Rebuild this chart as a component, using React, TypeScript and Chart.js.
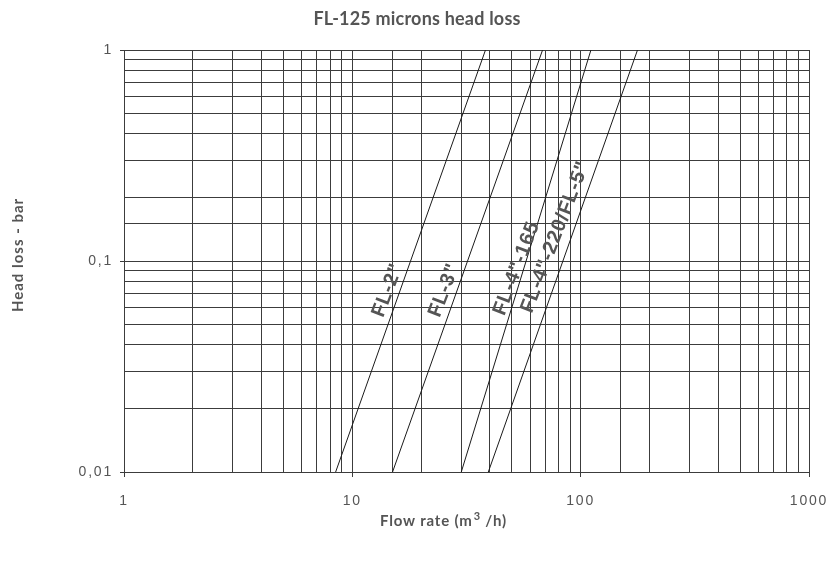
import React, { useEffect, useRef } from 'react';
import { Chart, registerables } from 'chart.js';

Chart.register(...registerables);

// ---- data ----
const chartTitle = 'FL-125 microns head loss';
const xAxisTitle = 'Flow rate (m';
const yAxisTitle = 'Head loss - bar';

const seriesNames = ['FL-2"', 'FL-3"', 'FL-4"-165', 'FL-4"-220/FL-5"'];
const headLoss = [0.01, 1];
const fl2Flow = [8.45, 38.3];
const fl3Flow = [15.0, 68.1];
const fl4s165Flow = [30.0, 110.9];
const fl4s220Flow = [39.4, 177.4];
const seriesFlows = [fl2Flow, fl3Flow, fl4s165Flow, fl4s220Flow];

// label anchor points (data coordinates)
const labelFlow = [14.3, 25.3, 52.5, 77.5];
const labelHead = [0.0727, 0.0727, 0.0924, 0.13];

const xTickValues = [1, 10, 100, 1000];
const xTickLabels = ['1', '10', '100', '1000'];
const yTickValues = [0.01, 0.1, 1];
const yTickLabels = ['0,01', '0,1', '1'];

const GRID = '#3c3c3c';
const TEXT = '#555555';

function findLabel(values: number[], labels: string[], v: number): string {
  for (let i = 0; i < values.length; i++) {
    if (Math.abs(Math.log10(v) - Math.log10(values[i])) < 1e-6) return labels[i];
  }
  return '';
}

const textPlugin = {
  id: 'textPlugin',
  beforeDraw(chart: any) {
    chart.ctx.letterSpacing = '1.8px';
  },
  afterDraw(chart: any) {
    const ctx = chart.ctx;
    const xs = chart.scales.x;
    const ys = chart.scales.y;
    ctx.save();
    ctx.letterSpacing = '0.2px';
    ctx.fillStyle = TEXT;
    // title
    ctx.font = 'bold 18px Lato';
    ctx.textAlign = 'center';
    ctx.textBaseline = 'middle';
    ctx.fillText(chartTitle, 417, 19);

    // y title
    ctx.save();
    ctx.translate(18, 255);
    ctx.rotate(-Math.PI / 2);
    ctx.font = 'bold 15px Lato';
    ctx.letterSpacing = '1px';
    ctx.fillText(yAxisTitle, 0, 0);
    ctx.restore();

    // x title with superscript
    ctx.save();
    ctx.letterSpacing = '0.8px';
    const mainFont = 'bold 15px Lato';
    const supFont = 'bold 11px Lato';
    ctx.font = mainFont;
    const w1 = ctx.measureText(xAxisTitle).width;
    ctx.font = supFont;
    const w2 = ctx.measureText('3').width;
    ctx.font = mainFont;
    const w3 = ctx.measureText(' /h)').width;
    const total = w1 + w2 + w3;
    const x0 = 443 - total / 2;
    const yb = 526;
    ctx.textAlign = 'left';
    ctx.textBaseline = 'alphabetic';
    ctx.fillText(xAxisTitle, x0, yb);
    ctx.font = supFont;
    ctx.fillText('3', x0 + w1 + 1, yb - 6);
    ctx.font = mainFont;
    ctx.fillText(' /h)', x0 + w1 + w2 + 1, yb);
    ctx.restore();

    // curve labels
    const ang = (-69 * Math.PI) / 180;
    for (let i = 0; i < seriesNames.length; i++) {
      const px = xs.getPixelForValue(labelFlow[i]);
      const py = ys.getPixelForValue(labelHead[i]);
      ctx.save();
      ctx.translate(px, py);
      ctx.rotate(ang);
      ctx.font = 'bold 20px "Liberation Sans"';
      ctx.letterSpacing = '0.8px';
      ctx.textAlign = 'center';
      ctx.textBaseline = 'middle';
      ctx.fillText(seriesNames[i], 0, 0);
      ctx.restore();
    }
    ctx.restore();
  },
};

export default function App() {
  const ref = useRef<HTMLCanvasElement | null>(null);
  useEffect(() => {
    if (!ref.current) return;
    const datasets = seriesNames.map((name, i) => ({
      label: name,
      data: seriesFlows[i].map((f, j) => ({ x: f, y: headLoss[j] })),
      showLine: true,
      borderColor: '#1a1a1a',
      borderWidth: 1,
      pointRadius: 0,
      fill: false,
    }));
    const chart = new Chart(ref.current, {
      type: 'scatter',
      data: { datasets },
      options: {
        animation: false,
        responsive: false,
        devicePixelRatio: 1,
        layout: { padding: { top: 50, right: 25, bottom: 0, left: 0 } },
        plugins: {
          legend: { display: false },
          tooltip: { enabled: false },
          title: { display: false },
        },
        scales: {
          x: {
            type: 'logarithmic',
            min: 1,
            max: 1000,
            afterFit: (s: any) => {
              s.height = 89;
              s.paddingLeft = 0;
              s.paddingRight = 0;
            },
            grid: {
              color: GRID,
              lineWidth: 1,
              tickLength: 5,
              tickColor: (c: any) =>
                c.tick && findLabel(xTickValues, xTickLabels, c.tick.value) ? GRID : 'rgba(0,0,0,0)',
            },
            border: { display: true, color: GRID },
            ticks: {
              autoSkip: false,
              maxRotation: 0,
              padding: 16,
              color: TEXT,
              font: { family: '"Liberation Sans"', size: 14 },
              callback: (v: any) => findLabel(xTickValues, xTickLabels, Number(v)),
            },
          },
          y: {
            type: 'logarithmic',
            min: 0.01,
            max: 1,
            afterFit: (s: any) => {
              s.width = 124;
              s.paddingTop = 0;
              s.paddingBottom = 0;
            },
            grid: {
              color: GRID,
              lineWidth: 1,
              tickLength: 4,
              tickColor: (c: any) =>
                c.tick && findLabel(yTickValues, yTickLabels, c.tick.value) ? GRID : 'rgba(0,0,0,0)',
            },
            border: { display: true, color: GRID },
            ticks: {
              autoSkip: false,
              padding: 7,
              color: TEXT,
              font: { family: '"Liberation Sans"', size: 14 },
              callback: (v: any) => findLabel(yTickValues, yTickLabels, Number(v)),
            },
          },
        },
      },
      plugins: [textPlugin],
    });
    return () => chart.destroy();
  }, []);
  return (
    <div style={{ position: 'fixed', left: 0, top: 0, width: 834, height: 561, background: '#fff' }}>
      <canvas ref={ref} width={834} height={561} />
    </div>
  );
}
